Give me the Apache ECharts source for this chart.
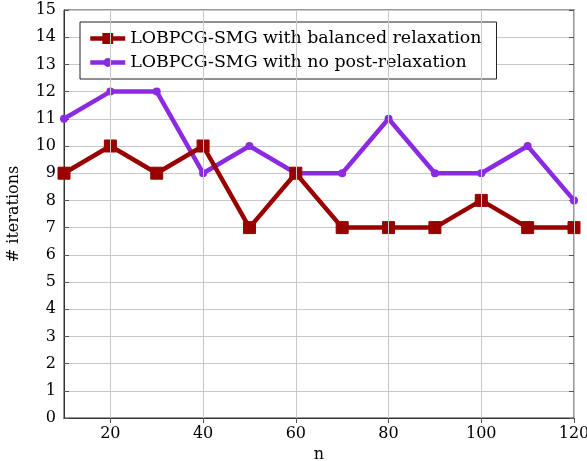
<!DOCTYPE html>
<html>
<head>
<meta charset="utf-8">
<script src="https://cdn.jsdelivr.net/npm/echarts@6/dist/echarts.min.js"></script>
<style>
  html, body { margin: 0; padding: 0; background: #fff; }
  #chart { width: 587px; height: 461px; }
</style>
</head>
<body>
<div id="chart"></div>
<script>
// Problem sizes n
const nValues = [10, 20, 30, 40, 50, 60, 70, 80, 90, 100, 110, 120];
// Iteration counts
const balancedRelaxation = [9, 10, 9, 10, 7, 9, 7, 7, 7, 8, 7, 7];
const noPostRelaxation = [11, 12, 12, 9, 10, 9, 9, 11, 9, 9, 10, 8];
const xTicks = [20, 40, 60, 80, 100, 120];

const seriesNames = [
  'LOBPCG-SMG with balanced relaxation',
  'LOBPCG-SMG with no post-relaxation'
];

const FONT = 'DejaVu Serif';
const red = '#990000';
const purple = '#8a2be2';
const gridColor = '#c8c8c8';

const pairs = (ys) => nValues.map((x, i) => [x, ys[i]]);

const chart = echarts.init(document.getElementById('chart'), null, { renderer: 'canvas' });

const axisLine = { show: true, lineStyle: { color: '#333', width: 1 } };
const gridLine = { show: true, lineStyle: { color: gridColor, width: 1 } };
const tick = { show: true, inside: true, length: 5, lineStyle: { color: '#555', width: 1 } };

chart.setOption({
  animation: false,
  backgroundColor: '#fff',
  grid: {
    left: 64, right: 13, top: 10, bottom: 43,
    containLabel: false, outerBoundsMode: 'none',
    show: true, borderColor: '#333', borderWidth: 1, backgroundColor: 'transparent'
  },
  xAxis: [
    {
      type: 'value', min: 10, max: 120, interval: 10,
      name: 'n', nameLocation: 'middle', nameGap: 29,
      nameTextStyle: { fontFamily: FONT, fontSize: 16, color: '#000' },
      axisLine: axisLine,
      axisTick: Object.assign({}, tick, { customValues: xTicks }),
      axisLabel: { fontFamily: FONT, fontSize: 16, color: '#000', margin: 8, customValues: xTicks },
      splitLine: { show: false }
    },
    {
      type: 'value', min: 10, max: 120, interval: 10, position: 'top',
      axisLine: axisLine,
      axisTick: Object.assign({}, tick, { customValues: xTicks }),
      axisLabel: { show: false, customValues: xTicks },
      splitLine: { show: false }
    }
  ],
  yAxis: [
    {
      type: 'value', min: 0, max: 15, interval: 1,
      name: '# iterations', nameLocation: 'middle', nameGap: 42, nameRotate: 90,
      nameTextStyle: { fontFamily: FONT, fontSize: 16, color: '#000' },
      axisLine: axisLine,
      axisTick: tick,
      axisLabel: { fontFamily: FONT, fontSize: 16, color: '#000', margin: 8 },
      splitLine: gridLine
    },
    {
      type: 'value', min: 0, max: 15, interval: 1, position: 'right',
      axisLine: axisLine,
      axisTick: tick,
      axisLabel: { show: false },
      splitLine: { show: false }
    }
  ],
  legend: {
    orient: 'vertical', left: 80, top: 22,
    backgroundColor: '#fff', borderColor: '#222', borderWidth: 1,
    padding: [8, 15, 8, 8], itemGap: 7, itemWidth: 35, itemHeight: 11,
    lineStyle: { width: 4.5 },
    textStyle: { fontFamily: FONT, fontSize: 17.4, color: '#000' },
    data: seriesNames
  },
  series: [
    {
      // vertical grid lines at the labelled n values
      name: 'grid', type: 'line', data: [], z: 1,
      markLine: {
        silent: true, symbol: 'none', animation: false,
        label: { show: false },
        lineStyle: { color: gridColor, width: 1, type: 'solid' },
        data: xTicks.map(v => ({ xAxis: v }))
      }
    },
    {
      name: seriesNames[0], type: 'line', data: pairs(balancedRelaxation),
      z: 3,
      lineStyle: { color: red, width: 4.5 },
      itemStyle: { color: red, borderColor: red, borderWidth: 1 },
      symbol: 'rect', symbolSize: 12
    },
    {
      name: seriesNames[1], type: 'line', data: pairs(noPostRelaxation),
      z: 2,
      lineStyle: { color: purple, width: 4.5 },
      itemStyle: { color: purple },
      symbol: 'circle', symbolSize: 8
    }
  ]
});
</script>
</body>
</html>
